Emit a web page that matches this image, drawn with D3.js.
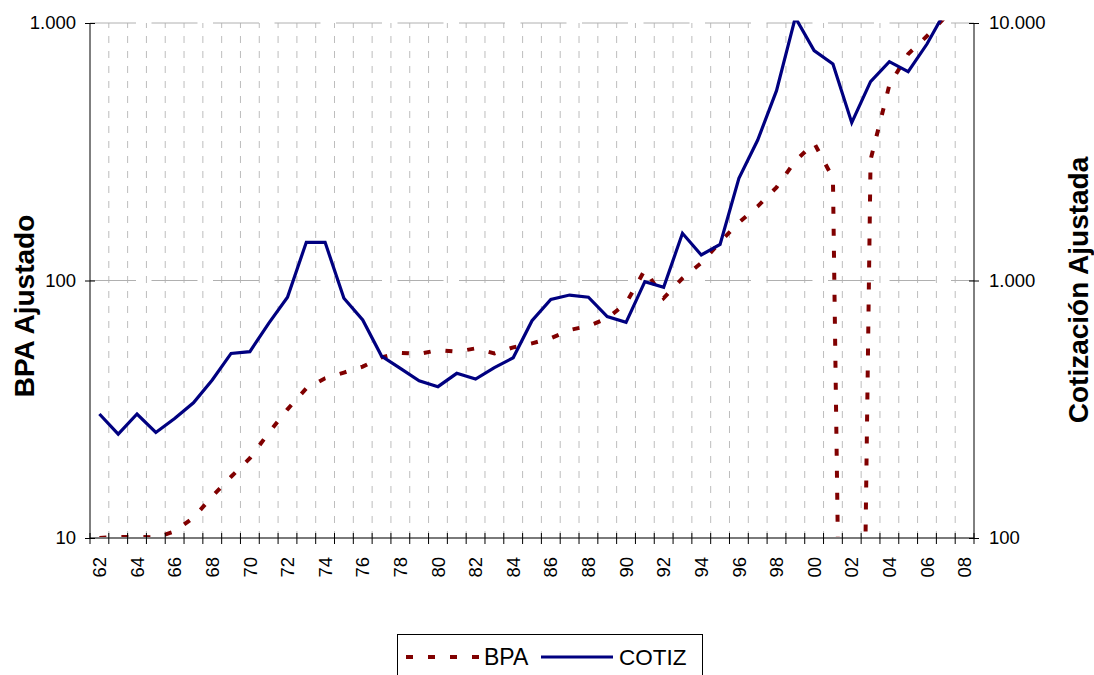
<!DOCTYPE html>
<html><head><meta charset="utf-8">
<script src="https://cdn.jsdelivr.net/npm/d3@7/dist/d3.min.js"></script>
<style>
html,body{margin:0;padding:0;background:#fff;}
svg{display:block;font-family:"Liberation Sans",Arial,sans-serif;}
</style></head>
<body>
<svg id="chart" width="1094" height="675"></svg>
<script>
const years = d3.range(1962, 2009);
const yearLabels = years.map(y => String(y % 100).padStart(2, "0"));
const bpa = [10.0,10.1,10.1,10.05,10.6,12.0,14.5,17.3,20.4,25.6,31.6,38.1,41.7,43.9,46.3,50.3,52.4,51.8,53.7,52.9,54.5,52.1,55.0,57.0,59.7,64.2,66.6,71.3,81.5,110,85.5,102,117,141,168,194,230,291,342,250,0.001,294,574,758,890,1060,null];
const cotiz = [303,253,303,257,291,335,411,521,529,682,861,1407,1407,853,703,509,456,408,387,436,414,459,501,698,845,878,861,724,688,990,941,1525,1256,1382,2495,3513,5460,10500,7810,6932,4102,5916,7075,6470,8286,11200,null];
const leftTicks = [10,100,1000];
const rightTicks = [100,1000,10000];
const seriesNames = ["BPA","COTIZ"];

const L = 90, R = 974, T = 23, B = 538;
const svg = d3.select("#chart");
const fmt = d3.formatLocale({decimal:",", thousands:".", grouping:[3], currency:["",""]}).format(",");

const x = d3.scaleBand().domain(years).range([L, R]).padding(0);
const bw = x.bandwidth();
const cx = d => x(d) + bw / 2;
const yL = d3.scaleLog().domain([10, 1000]).range([B, T]);
const yR = d3.scaleLog().domain([100, 10000]).range([B, T]);

// vertical dashed gridlines at category boundaries
const bounds = years.slice(1).map(d => x(d));
svg.append("g").selectAll("line").data(bounds).join("line")
  .attr("x1", d => d).attr("x2", d => d).attr("y1", B).attr("y2", T)
  .attr("stroke", "#bdbdbd").attr("stroke-width", 1).attr("stroke-dasharray", "7,8");

// horizontal gridlines
svg.append("g").selectAll("line").data([100, 1000]).join("line")
  .attr("x1", L).attr("x2", R).attr("y1", d => yL(d)).attr("y2", d => yL(d))
  .attr("stroke", "#b0b0b0").attr("stroke-width", 1).attr("stroke-dasharray", "46,15.5");

// clip
svg.append("clipPath").attr("id", "clip").append("rect")
  .attr("x", L).attr("y", T - 2.5).attr("width", R - L).attr("height", B - T + 2.5);

const lineB = d3.line().defined((d, i) => bpa[i] != null).x((d, i) => cx(years[i])).y(d => yL(d));
const lineC = d3.line().defined((d, i) => cotiz[i] != null).x((d, i) => cx(years[i])).y(d => yR(d));

const plot = svg.append("g").attr("clip-path", "url(#clip)");
plot.append("path").datum(bpa).attr("d", lineB)
  .attr("fill", "none").attr("stroke", "#800000").attr("stroke-width", 4)
  .attr("stroke-dasharray", "7,15");
plot.append("path").datum(cotiz).attr("d", lineC)
  .attr("fill", "none").attr("stroke", "#000080").attr("stroke-width", 3.2)
  .attr("stroke-linejoin", "miter");

// bottom axis line
svg.append("line").attr("x1", L).attr("x2", R).attr("y1", B).attr("y2", B)
  .attr("stroke", "#7a7a7a").attr("stroke-width", 2);
// category tick marks (cross)
svg.append("g").selectAll("line").data(years.map(d => x(d)).concat([R])).join("line")
  .attr("x1", d => d).attr("x2", d => d).attr("y1", B - 5).attr("y2", B + 6)
  .attr("stroke", "#000").attr("stroke-width", 1);

// x labels
const xAxis = d3.axisBottom(x).tickSize(0).tickFormat((d, i) => i % 2 === 0 ? yearLabels[i] : "");
const gx = svg.append("g").attr("transform", `translate(0,${B})`).call(xAxis);
gx.select(".domain").remove();
gx.selectAll("text").attr("transform", "translate(0,19) rotate(-90)")
  .attr("text-anchor", "end").attr("x", 0).attr("y", 0).attr("dy", "0.36em")
  .attr("font-size", 18.5).attr("fill", "#000")
  .attr("font-family", "Liberation Sans, Arial, sans-serif");

// left axis
const gl = svg.append("g").attr("transform", `translate(${L},0)`)
  .call(d3.axisLeft(yL).tickValues(leftTicks).tickFormat(fmt).tickSize(5));
gl.select(".domain").attr("stroke", "#000").attr("d", `M0,${T}V${B}`);
gl.selectAll(".tick line").attr("x1", -5).attr("x2", 5).attr("stroke", "#000");
gl.selectAll(".tick text").attr("x", -14).attr("font-size", 18.5).attr("fill", "#000")
  .attr("font-family", "Liberation Sans, Arial, sans-serif");

// right axis
const gr = svg.append("g").attr("transform", `translate(${R},0)`)
  .call(d3.axisRight(yR).tickValues(rightTicks).tickFormat(fmt).tickSize(5));
gr.select(".domain").attr("stroke", "#000").attr("d", `M0,${T}V${B}`);
gr.selectAll(".tick line").attr("x1", -5).attr("x2", 5).attr("stroke", "#000");
gr.selectAll(".tick text").attr("x", 15).attr("font-size", 18.5).attr("fill", "#000")
  .attr("font-family", "Liberation Sans, Arial, sans-serif");

// titles
svg.append("text").attr("transform", "translate(34,306) rotate(-90)")
  .attr("text-anchor", "middle").attr("font-size", 28).attr("font-weight", "bold")
  .text("BPA Ajustado");
svg.append("text").attr("transform", "translate(1088,290) rotate(-90)")
  .attr("text-anchor", "middle").attr("font-size", 28).attr("font-weight", "bold")
  .text("Cotización Ajustada");

// legend
const lg = svg.append("g");
lg.append("rect").attr("x", 397.5).attr("y", 634.5).attr("width", 305).attr("height", 60)
  .attr("fill", "#fff").attr("stroke", "#000").attr("stroke-width", 1);
lg.append("line").attr("x1", 406).attr("x2", 479).attr("y1", 657).attr("y2", 657)
  .attr("stroke", "#800000").attr("stroke-width", 4).attr("stroke-dasharray", "7,15");
lg.append("text").attr("x", 484).attr("y", 665).attr("font-size", 23).text(seriesNames[0]);
lg.append("line").attr("x1", 541).attr("x2", 613).attr("y1", 657).attr("y2", 657)
  .attr("stroke", "#000080").attr("stroke-width", 3.2);
lg.append("text").attr("x", 619).attr("y", 665).attr("font-size", 22.5).text(seriesNames[1]);
</script>
</body></html>
